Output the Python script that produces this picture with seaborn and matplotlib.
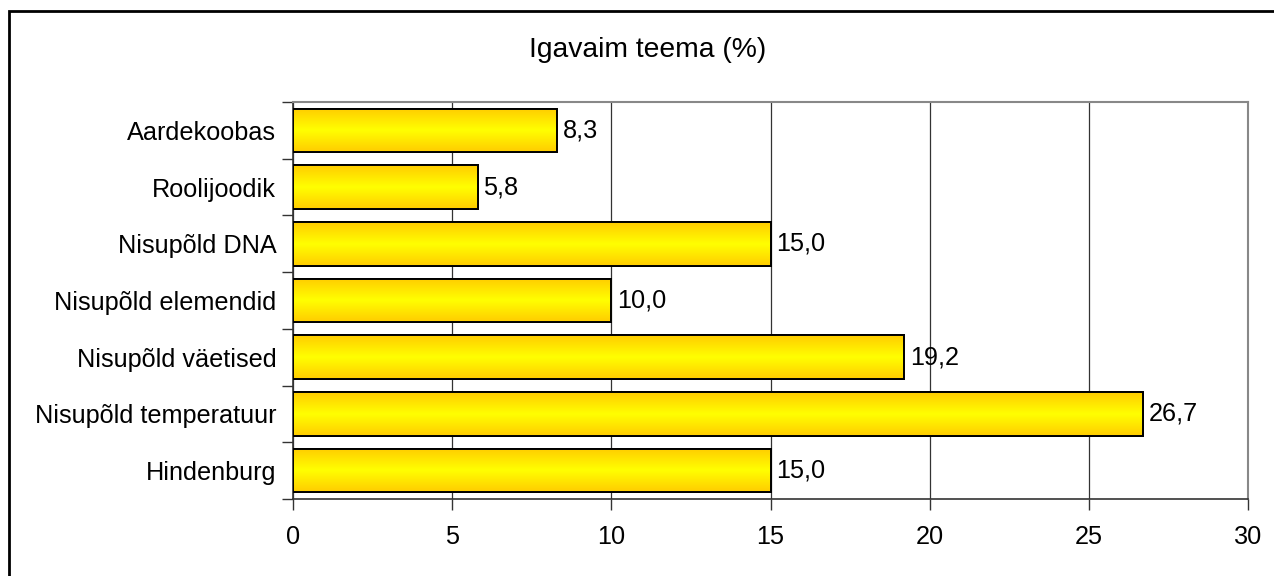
import matplotlib
matplotlib.use("Agg")
import matplotlib.pyplot as plt
import seaborn as sns
import numpy as np
import pandas as pd
from matplotlib.colors import LinearSegmentedColormap
from matplotlib.patches import Rectangle

categories = ["Aardekoobas", "Roolijoodik", "Nisupõld DNA", "Nisupõld elemendid",
              "Nisupõld väetised", "Nisupõld temperatuur", "Hindenburg"]
values = [8.3, 5.8, 15.0, 10.0, 19.2, 26.7, 15.0]
xticks = [0, 5, 10, 15, 20, 25, 30]
title = "Igavaim teema (%)"

sns.set_theme(style="white")
plt.rcParams['font.family'] = ['Liberation Sans', 'DejaVu Sans']
plt.rcParams['text.color'] = 'black'
plt.rcParams['xtick.color'] = 'black'
plt.rcParams['ytick.color'] = 'black'
plt.rcParams['xtick.labelcolor'] = 'black'
plt.rcParams['ytick.labelcolor'] = 'black'

FS = 18.2

df = pd.DataFrame({"cat": categories, "val": values})

fig = plt.figure(figsize=(12.74, 5.76), dpi=100)
ax = fig.add_axes([0.2300, 0.1337, 0.9796 - 0.2300, 0.8229 - 0.1337])

sns.barplot(data=df, x="val", y="cat", orient="h", ax=ax, color="#FFE600",
            edgecolor="black", linewidth=1.3, width=0.77, saturation=1, zorder=3)

cmap = LinearSegmentedColormap.from_list("g", ["#FFCC00", "#FFFF00", "#FFCC00"])
grad = np.linspace(0, 1, 256).reshape(-1, 1)
for p in ax.patches:
    x0, y0 = p.get_x(), p.get_y()
    w, h = p.get_width(), p.get_height()
    im = ax.imshow(grad, cmap=cmap, aspect="auto", extent=[x0, x0 + w, y0 + h, y0],
                   zorder=3.5, interpolation="bilinear")
    im.set_clip_path(p)
    ax.add_patch(Rectangle((x0, y0), w, h, fill=False, edgecolor="black",
                           linewidth=1.4, zorder=4))

for i, v in enumerate(values):
    ax.text(v + 0.17, i, f"{v:.1f}".replace(".", ","), va="center", ha="left",
            fontsize=FS, color="black", zorder=5)

ax.set_xlim(0, 30)
ax.set_ylim(len(categories) - 0.5, -0.5)
ax.set_xticks(xticks)
ax.set_xticklabels([str(t) for t in xticks], fontsize=FS)
ax.set_yticks(np.arange(len(categories)))
ax.set_yticklabels(categories, fontsize=FS)
ax.set_xlabel("")
ax.set_ylabel("")

# y ticks at category boundaries
ax.set_yticks(np.arange(len(categories) + 1) - 0.5, minor=True)
ax.tick_params(axis="y", which="major", length=0, pad=12)
ax.tick_params(axis="y", which="minor", length=8, width=1, color="#333333", direction="out")
ax.tick_params(axis="x", which="major", length=8, width=1, color="#333333",
               direction="out", pad=11)
ax.tick_params(left=True, bottom=True, which="both")
ax.tick_params(axis="y", which="major", left=False)

ax.grid(axis="x", color="#333333", linewidth=0.9, zorder=0)
ax.grid(axis="y", visible=False)
ax.set_axisbelow(True)

for s in ["top", "right"]:
    ax.spines[s].set_color("#888888")
    ax.spines[s].set_linewidth(1.5)
for s in ["left", "bottom"]:
    ax.spines[s].set_color("#333333")
    ax.spines[s].set_linewidth(1.2)

fig.text(648 / 1274, 1 - 50 / 576, title, ha="center", va="center", fontsize=20.3,
         color="black")

fig.patches.append(Rectangle((8.5 / 1274, -0.01), 1.2, 1 - 10.5 / 576 + 0.01,
                             transform=fig.transFigure, fill=False,
                             edgecolor="black", linewidth=2, zorder=10))

fig.savefig("out.png", dpi=100)
